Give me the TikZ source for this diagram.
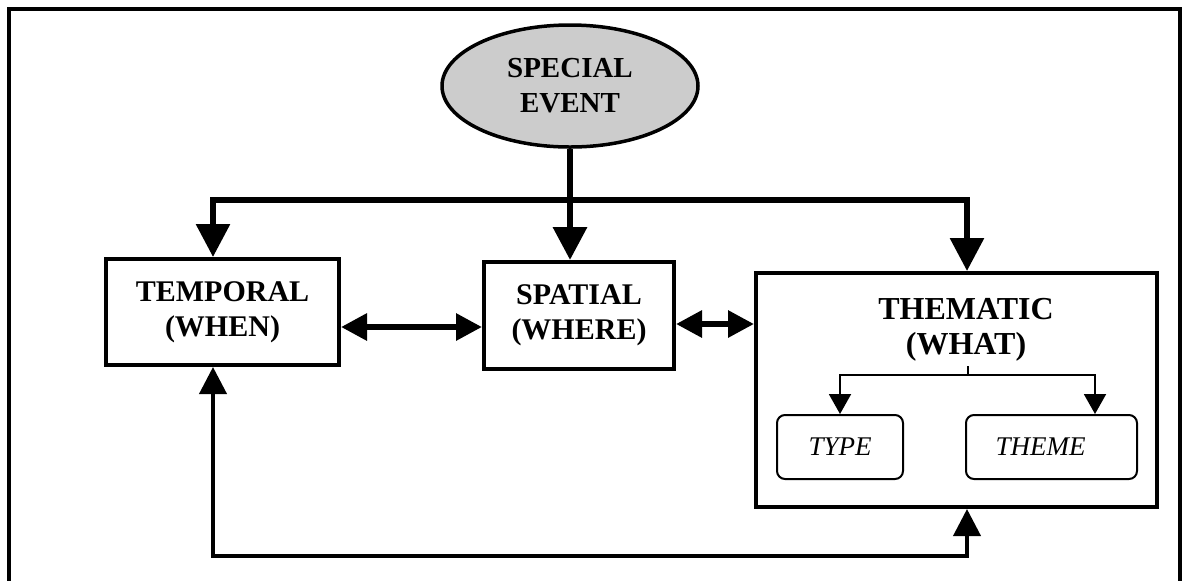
\documentclass[tikz,border=0pt]{standalone}
\usepackage{fontspec}
\setmainfont{Liberation Serif}
\usetikzlibrary{arrows.meta,shapes.geometric}
\begin{document}
\begin{tikzpicture}[x=0.5pt,y=-0.5pt,
  box/.style={draw, line width=2pt, font=\bfseries\fontsize{15}{17.5}\selectfont, align=center, inner sep=0pt},
  subbox/.style={draw, line width=1pt, rounded corners=4pt, font=\itshape\fontsize{13.5}{16}\selectfont, inner sep=0pt, minimum height=32pt},
  bigarrow/.style={line width=3.25pt, -{Triangle[length=16.5pt,width=16.5pt]}},
  spine/.style={line width=3pt, {Triangle[length=16.5pt,width=16.5pt]}-{Triangle[length=16.5pt,width=16.5pt]}},
  dblarrow/.style={line width=3pt, {Triangle[length=13pt,width=13pt]}-{Triangle[length=13pt,width=13pt]}},
  fbarrow/.style={line width=2pt, {Triangle[length=13.5pt,width=13.5pt]}-{Triangle[length=13.5pt,width=13.5pt]}},
  subarrow/.style={line width=1pt, {Triangle[length=10pt,width=11pt]}-{Triangle[length=10pt,width=11pt]}},
  frame/.style={line width=1.75pt}
]
\useasboundingbox (0,0) rectangle (1183,580);
\fill[white] (0,0) rectangle (1183,580);
% outer frame
\draw[frame] (9,590) -- (9,9) -- (1180,9) -- (1180,590);

% special event
\node[draw, ellipse, line width=1.75pt, fill=black!20, minimum width=128pt, minimum height=61pt, inner sep=0pt,
      font=\bfseries\fontsize{14.5}{17.5}\selectfont, align=center] (event) at (570,86) {SPECIAL\\EVENT};

% main boxes
\node[box, minimum width=116.5pt, minimum height=53pt] (temporal) at (222.5,312) {TEMPORAL\\(WHEN)};
\node[box, minimum width=95pt, minimum height=53.5pt] (spatial) at (579,315.5) {SPATIAL\\(WHERE)};
\node[draw, line width=2pt, minimum width=200.5pt, minimum height=117pt, inner sep=0pt] (thematic) at (956.5,390) {};
\node[font=\bfseries\fontsize{16}{17.5}\selectfont, align=center, inner sep=0pt] (thtext) at (966,330) {THEMATIC\\(WHAT)};

% sub boxes
\node[subbox, minimum width=63pt] (type) at (840,447) {TYPE};
\node[subbox, minimum width=85.5pt] (theme) at (1051.5,447) {THEME\hspace*{11pt}};

% junction coordinates
\coordinate (jL) at (213,200);
\coordinate (jR) at (967,200);
\coordinate (yA) at (0,327);
\coordinate (yB) at (0,324);
\coordinate (brTop) at (968,366);
\coordinate (br) at (968,375);
\coordinate (brR) at (1095,375);
\coordinate (fbL) at (213,556);
\coordinate (fbR) at (967,556);

% connectors from special event
\draw[spine] (temporal.north -| jL) -- (jL) -- (jR) -- (thematic.north -| jR);
\draw[bigarrow] (event.south) -- (spatial.north -| event.south);

% double arrows between boxes
\draw[dblarrow] (temporal.east |- yA) -- (spatial.west |- yA);
\draw[dblarrow] (spatial.east |- yB) -- (thematic.west |- yB);

% inner branch
\draw[line width=0.6pt] (brTop) -- (br);
\draw[subarrow] (type.north) |- (brR) -- (theme.north -| brR);

% feedback loop
\draw[fbarrow] (temporal.south -| fbL) -- (fbL) -- (fbR) -- (thematic.south -| fbR);
\end{tikzpicture}
\end{document}
